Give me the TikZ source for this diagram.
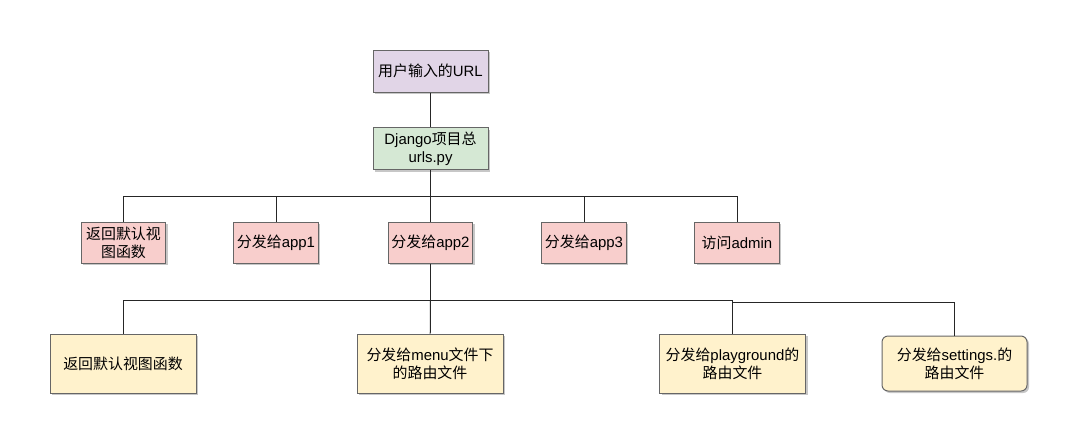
\documentclass[tikz,border=0pt]{standalone}
\usepackage{fontspec}
\setmainfont{Liberation Sans}
\newfontfamily\cjk{Noto Sans CJK SC}
\usetikzlibrary{shadows}
\definecolor{bd}{HTML}{666666}
\definecolor{cpurple}{HTML}{E1D5E7}
\definecolor{cgreen}{HTML}{D5E8D4}
\definecolor{cpink}{HTML}{F8CECC}
\definecolor{cyellow}{HTML}{FFF2CC}
\begin{document}
\begin{tikzpicture}[x=0.75pt,y=-0.75pt,
  box/.style={draw=bd,line width=0.75pt,align=center,inner sep=1pt,
    font=\fontsize{11.2}{13.5}\selectfont,
    drop shadow={shadow xshift=1.5pt,shadow yshift=-1.5pt,fill=black,opacity=0.22}},
  topbox/.style={box,minimum width=86.25pt,minimum height=31.5pt},
  midbox/.style={box,fill=cpink,minimum width=63.5pt,minimum height=30.75pt},
  lowbox/.style={box,fill=cyellow,minimum width=109.5pt,minimum height=44.25pt},
  link/.style={draw=black!85,line width=0.75pt}]
\useasboundingbox (0,0) rectangle (1077,444);
\node[topbox,fill=cpurple] (url) at (430.5,71) {{\cjk 用户输入的}URL};
\node[topbox,fill=cgreen] (dj) at (430.5,148.5) {Django{\cjk 项目总}\\urls.py};
\node[midbox] (r1) at (123.5,242.5) {{\cjk 返回默认视}\\{\cjk 图函数}};
\node[midbox] (a1) at (276,242.5) {{\cjk 分发给}app1};
\node[midbox] (a2) at (430.5,242.5) {{\cjk 分发给}app2};
\node[midbox] (a3) at (584,242.5) {{\cjk 分发给}app3};
\node[midbox] (ad) at (737,242.5) {{\cjk 访问}admin};
\node[lowbox] (y1) at (123,363.5) {{\cjk 返回默认视图函数}};
\node[lowbox] (mn) at (430,363.5) {{\cjk 分发给}menu{\cjk 文件下}\\{\cjk 的路由文件}};
\node[lowbox] (pg) at (732.5,363.5) {{\cjk 分发给}playground{\cjk 的}\\{\cjk 路由文件}};
\node[lowbox,rounded corners=4.5pt,minimum height=41.25pt,minimum width=108.75pt] (st) at (954.5,363.5) {{\cjk 分发给}settings.{\cjk 的}\\{\cjk 路由文件}};
\coordinate (b1) at (430.5,196);
\coordinate (b2) at (430.5,300);
\coordinate (b3) at (732.5,302);
\draw[link] (url) -- (dj);
\draw[link] (dj) -- (b1);
\draw[link] (b1) -| (r1);
\draw[link] (b1) -| (a1);
\draw[link] (b1) -- (a2);
\draw[link] (b1) -| (a3);
\draw[link] (b1) -| (ad);
\draw[link] (a2) -- (b2);
\draw[link] (b2) -| (y1);
\draw[link] (b2) -- (mn);
\draw[link] (b2) -| (pg);
\draw[link] (b3) -| (st);
\end{tikzpicture}
\end{document}
